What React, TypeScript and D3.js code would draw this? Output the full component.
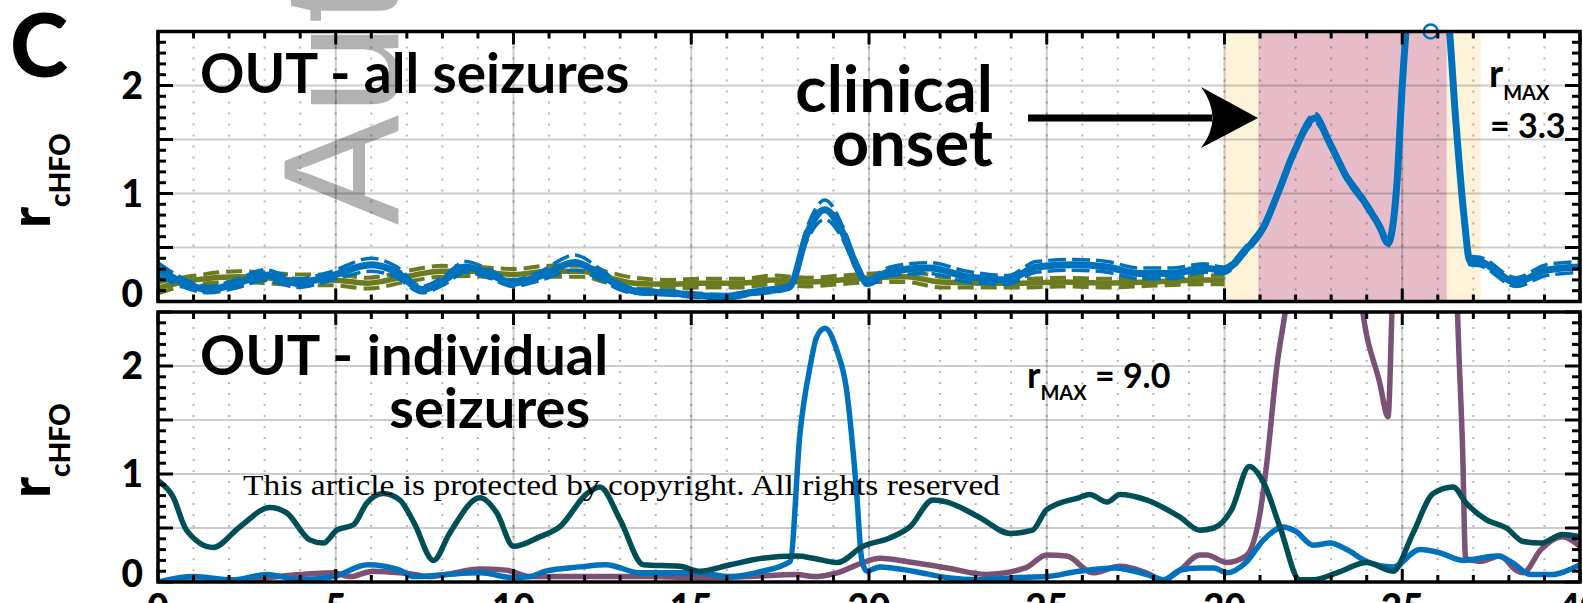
import React from 'react';
import * as d3 from 'd3';

const W = 1583;
const H = 603;

// Shared axis labels
const xTickLabels = ['0', '5', '10', '15', '20', '25', '30', '35', '40'];
const yTickLabels = ['0', '1', '2'];

// Shaded intervals (s)
const onsetWindow = [30.0, 37.2];
const clinicalWindow = [30.95, 36.25];

// Panel 1 — all seizures: mean r_cHFO with confidence half-width
const allBlueT = [0, 0.67, 1.41, 2.25, 3.0, 3.94, 4.8, 6.0, 6.67, 7.43, 8.07, 8.64, 9.3, 9.96, 10.7, 11.73, 12.4, 13.05, 13.6, 14.35, 15.05, 15.9, 16.85, 17.64, 17.78, 18.26, 18.76, 19.27, 19.66, 19.94, 20.6, 21.7, 22.75, 23.9, 24.7, 25.75, 26.7, 27.6, 28.56, 29.4, 29.97, 30.6, 31.1, 31.5, 31.94, 32.55, 32.97, 33.44, 33.9, 34.37, 34.6, 34.85, 35.0, 35.2, 35.8, 36.3, 36.5, 36.74, 36.9, 37.19, 38.2, 39.05, 40];
const allBlueR = [0.3, 0.18, 0.11, 0.17, 0.245, 0.17, 0.23, 0.34, 0.28, 0.11, 0.2, 0.32, 0.26, 0.17, 0.23, 0.36, 0.26, 0.13, 0.09, 0.08, 0.06, 0.045, 0.09, 0.125, 0.14, 0.63, 0.85, 0.63, 0.32, 0.18, 0.28, 0.31, 0.23, 0.2, 0.32, 0.34, 0.32, 0.26, 0.26, 0.31, 0.29, 0.48, 0.69, 1.0, 1.37, 1.7, 1.46, 1.15, 0.94, 0.69, 0.54, 1.09, 2.0, 2.8, 3.3, 2.6, 1.7, 0.78, 0.38, 0.37, 0.18, 0.29, 0.32];
const allBlueSpread = [0.06, 0.04, 0.03, 0.04, 0.05, 0.04, 0.04, 0.06, 0.05, 0.03, 0.04, 0.05, 0.04, 0.03, 0.04, 0.07, 0.05, 0.03, 0.02, 0.02, 0.02, 0.02, 0.02, 0.02, 0.02, 0.06, 0.09, 0.06, 0.04, 0.03, 0.04, 0.05, 0.05, 0.04, 0.05, 0.05, 0.05, 0.05, 0.05, 0.04, 0.03, 0.03, 0.03, 0.03, 0.03, 0.04, 0.03, 0.03, 0.03, 0.03, 0.03, 0.03, 0.03, 0.03, 0.03, 0.03, 0.03, 0.03, 0.04, 0.04, 0.04, 0.05, 0.05];

const allOliveT = [0, 1.04, 2.25, 3.0, 3.94, 4.9, 5.9, 6.95, 7.99, 8.83, 10.0, 10.97, 11.9, 12.57, 13.4, 14.35, 15.25, 16.4, 17.3, 18.26, 19.2, 20.1, 21.07, 22.0, 23.2, 24.3, 25.45, 26.7, 27.9, 29.4, 30.0];
const allOliveR = [0.125, 0.2, 0.23, 0.22, 0.2, 0.2, 0.17, 0.23, 0.28, 0.28, 0.25, 0.28, 0.28, 0.23, 0.17, 0.16, 0.17, 0.17, 0.2, 0.18, 0.2, 0.22, 0.23, 0.18, 0.17, 0.17, 0.18, 0.17, 0.18, 0.2, 0.2];
const allOliveSpread = [0.05, 0.04, 0.05, 0.05, 0.05, 0.05, 0.05, 0.05, 0.05, 0.045, 0.05, 0.05, 0.05, 0.05, 0.05, 0.04, 0.04, 0.04, 0.04, 0.04, 0.04, 0.04, 0.05, 0.05, 0.04, 0.04, 0.04, 0.04, 0.035, 0.04, 0.04];

// Panel 2 — individual seizures
const szBlueT = [0, 1.0, 2.1, 3.06, 4.0, 4.93, 5.9, 6.8, 7.2, 8.1, 9.06, 10.0, 10.46, 10.9, 11.87, 12.6, 13.56, 14.1, 15.16, 16.1, 17.0, 17.78, 18.06, 18.34, 18.53, 18.76, 19.1, 19.36, 19.64, 19.8, 19.94, 20.3, 21.24, 22.2, 23.1, 24.05, 25.0, 25.9, 26.9, 27.8, 28.3, 28.75, 29.3, 29.7, 30.07, 30.6, 31.1, 31.65, 32.0, 32.5, 32.97, 33.44, 34.0, 34.74, 35.5, 36.06, 36.7, 37.66, 38.1, 38.6, 39.24, 39.6, 40];
const szBlueR = [0.0, 0.05, 0.02, 0.07, 0.02, 0.05, 0.16, 0.11, 0.05, 0.07, 0.085, 0.04, 0.05, 0.1, 0.14, 0.16, 0.085, 0.085, 0.085, 0.05, 0.1, 0.19, 1.38, 1.99, 2.27, 2.35, 2.14, 1.8, 0.88, 0.2, 0.1, 0.14, 0.1, 0.04, 0.02, 0.04, 0.05, 0.1, 0.13, 0.07, 0.02, 0.11, 0.13, 0.13, 0.085, 0.18, 0.39, 0.51, 0.47, 0.34, 0.36, 0.3, 0.19, 0.14, 0.3, 0.27, 0.2, 0.24, 0.18, 0.07, 0.07, 0.1, 0.16];

const szTealT = [0, 0.42, 0.8, 1.55, 2.3, 3.15, 3.62, 4.27, 4.65, 5.03, 5.5, 5.87, 6.33, 6.8, 7.2, 7.75, 8.2, 9.06, 9.53, 10.0, 10.75, 11.3, 12.07, 12.43, 13.0, 13.65, 14.68, 15.25, 16.1, 17.0, 17.97, 18.43, 19.1, 19.83, 20.6, 21.15, 21.8, 22.2, 23.1, 23.97, 24.6, 25.0, 25.9, 26.2, 26.7, 27.06, 27.8, 28.75, 29.3, 29.7, 30.2, 30.7, 31.1, 31.56, 32.12, 32.5, 33.16, 34.0, 34.74, 35.3, 35.87, 36.43, 36.8, 37.37, 37.93, 38.4, 38.9, 39.5, 40];
const szTealR = [0.94, 0.79, 0.48, 0.32, 0.51, 0.69, 0.64, 0.39, 0.36, 0.48, 0.53, 0.73, 0.82, 0.76, 0.55, 0.2, 0.45, 0.78, 0.64, 0.33, 0.42, 0.51, 0.82, 0.88, 0.575, 0.16, 0.145, 0.1, 0.16, 0.22, 0.24, 0.22, 0.18, 0.33, 0.41, 0.51, 0.76, 0.74, 0.6, 0.45, 0.48, 0.67, 0.78, 0.81, 0.74, 0.81, 0.76, 0.6, 0.48, 0.5, 0.67, 1.07, 0.92, 0.51, 0.02, 0.02, 0.085, 0.18, 0.1, 0.45, 0.82, 0.88, 0.73, 0.575, 0.5, 0.375, 0.36, 0.44, 0.42];

const szPurpleT = [0, 2.1, 3.06, 4.0, 4.93, 5.4, 6.05, 6.8, 7.2, 7.65, 8.1, 9.06, 9.8, 10.46, 11.87, 13.75, 15.6, 16.56, 17.97, 18.43, 19.1, 19.83, 20.3, 21.24, 22.2, 23.3, 24.4, 25.0, 25.56, 26.3, 27.06, 27.8, 28.27, 28.75, 29.3, 29.5, 30.07, 30.6, 31.0, 31.2, 31.47, 31.75, 32.3, 33.0, 33.5, 33.87, 34.37, 34.6, 34.72, 35.2, 35.8, 36.3, 36.55, 36.7, 36.78, 37.19, 37.75, 38.2, 38.4, 38.9, 39.5, 40];
const szPurpleR = [0.0, 0.0, 0.04, 0.07, 0.085, 0.05, 0.1, 0.085, 0.07, 0.05, 0.07, 0.12, 0.11, 0.05, 0.05, 0.05, 0.04, 0.05, 0.07, 0.05, 0.085, 0.18, 0.22, 0.18, 0.13, 0.07, 0.13, 0.25, 0.24, 0.085, 0.145, 0.085, 0.02, 0.11, 0.25, 0.25, 0.18, 0.24, 0.64, 1.13, 1.99, 2.6, 4.5, 5.2, 3.8, 2.55, 1.84, 1.53, 2.6, 6.0, 9.0, 6.5, 2.55, 1.2, 0.22, 0.19, 0.24, 0.11, 0.085, 0.3, 0.42, 0.33];

const BLUE = '#0072bd';
const OLIVE = '#6c7b1f';
const TEAL = '#004f58';
const PURPLE = '#7b5175';
const FONT = 'Lato, "Open Sans", sans-serif';

const LEFT = 158;
const RIGHT = 1580;
const x = d3.scaleLinear().domain([0, 40]).range([LEFT, RIGHT]);

type Pt = [number, number];
const zip = (t: number[], r: number[]): Pt[] => t.map((v, i) => [v, r[i]]);

function Grid({ y }: { y: d3.ScaleLinear<number, number> }) {
  const [bottom, top] = y.range();
  const hGrid = [0.5, 1, 1.5, 2];
  const vGrid = [5, 10, 15, 20, 25, 30, 35];
  const xMinor = d3.range(1, 40, 1);
  return (
    <g>
      {hGrid.map((v) => (
        <line key={'h' + v} x1={LEFT} x2={RIGHT} y1={y(v)} y2={y(v)} stroke="#000" strokeOpacity={0.2} strokeWidth={2} />
      ))}
      {vGrid.map((v) => (
        <line key={'v' + v} x1={x(v)} x2={x(v)} y1={top} y2={bottom} stroke="#000" strokeOpacity={0.2} strokeWidth={2} />
      ))}
      {xMinor.map((v) => (
        <line key={'m' + v} x1={x(v)} x2={x(v)} y1={bottom} y2={top} stroke="#000" strokeOpacity={0.28} strokeWidth={2} strokeDasharray="2 9" />
      ))}
    </g>
  );
}

function Axes({ y }: { y: d3.ScaleLinear<number, number> }) {
  const [bottom, top] = y.range();
  const xTicks = d3.range(0, 41, 1);
  const yTicks = d3.range(0, 26, 1).map((k) => k / 10);
  return (
    <g stroke="#000" strokeWidth={3}>
      {xTicks.map((v) => {
        const len = v % 5 === 0 ? 13 : 7;
        return (
          <g key={'xt' + v}>
            <line x1={x(v)} x2={x(v)} y1={top} y2={top + len} />
            <line x1={x(v)} x2={x(v)} y1={bottom} y2={bottom - len} />
          </g>
        );
      })}
      {yTicks.map((v, i) => {
        const len = i % 5 === 0 ? 15 : 8;
        return (
          <g key={'yt' + i}>
            <line x1={LEFT} x2={LEFT + len} y1={y(v)} y2={y(v)} />
            <line x1={RIGHT} x2={RIGHT - len} y1={y(v)} y2={y(v)} />
          </g>
        );
      })}
      <rect x={LEFT} y={top} width={RIGHT - LEFT} height={bottom - top} fill="none" strokeWidth={3.5} />
    </g>
  );
}

function YLabels({ y }: { y: d3.ScaleLinear<number, number> }) {
  return (
    <g fontFamily={FONT} fontWeight={900} fontSize={37} textAnchor="end">
      {yTickLabels.map((s) => {
        const v = +s;
        const yy = y(v) + (v === 0 ? -8 : 0);
        return (
          <text key={s} x={143} y={yy} dy="0.36em">
            {s}
          </text>
        );
      })}
    </g>
  );
}

function RLabel({ cy }: { cy: number }) {
  return (
    <text transform={`translate(50,${cy}) rotate(-90)`} fontFamily={FONT} fontWeight={900} fontSize={56}>
      r
      <tspan fontSize={28} dy={20}>
        cHFO
      </tspan>
    </text>
  );
}

export default function App() {
  const yTop = d3.scaleLinear().domain([0, 2.5]).range([301.5, 31.5]);
  const yBot = d3.scaleLinear().domain([0, 2.5]).range([582, 312]);

  const lineTop = d3.line<Pt>().x((d) => x(d[0])).y((d) => yTop(d[1])).curve(d3.curveMonotoneX);
  const lineBot = d3.line<Pt>().x((d) => x(d[0])).y((d) => yBot(d[1])).curve(d3.curveMonotoneX);

  const blueMean = zip(allBlueT, allBlueR);
  const blueUp = allBlueT.map((t, i): Pt => [t, allBlueR[i] + allBlueSpread[i]]);
  const blueLo = allBlueT.map((t, i): Pt => [t, allBlueR[i] - allBlueSpread[i]]);
  const oliveMean = zip(allOliveT, allOliveR);
  const oliveUp = allOliveT.map((t, i): Pt => [t, allOliveR[i] + allOliveSpread[i]]);
  const oliveLo = allOliveT.map((t, i): Pt => [t, allOliveR[i] - allOliveSpread[i]]);

  const peakIdx = d3.maxIndex(allBlueR);
  const yMaxTop = yTop.domain()[1];

  return (
    <svg width={W} height={H} viewBox={`0 0 ${W} ${H}`} style={{ position: 'fixed', left: 0, top: 0, background: '#fff' }}>
      <rect x={0} y={0} width={W} height={H} fill="#fff" />

      <clipPath id="clipTop">
        <rect x={LEFT} y={31.5} width={RIGHT - LEFT} height={270} />
      </clipPath>
      <clipPath id="clipBot">
        <rect x={LEFT} y={312} width={RIGHT - LEFT} height={270} />
      </clipPath>

      {/* top panel: all seizures */}
      <rect x={x(onsetWindow[0])} y={31.5} width={x(onsetWindow[1]) - x(onsetWindow[0])} height={270} fill="#fdf3d9" />
      <rect x={x(clinicalWindow[0])} y={31.5} width={x(clinicalWindow[1]) - x(clinicalWindow[0])} height={270} fill="#e7bcc9" />
      <Grid y={yTop} />
      <g clipPath="url(#clipTop)" fill="none" strokeLinejoin="round">
        <path d={lineTop(oliveUp) || ''} stroke={OLIVE} strokeWidth={4} strokeDasharray="16 7" />
        <path d={lineTop(oliveLo) || ''} stroke={OLIVE} strokeWidth={4} strokeDasharray="16 7" />
        <path d={lineTop(oliveMean) || ''} stroke={OLIVE} strokeWidth={5.5} />
        <path d={lineTop(blueUp) || ''} stroke={BLUE} strokeWidth={3.5} strokeDasharray="18 6" />
        <path d={lineTop(blueLo) || ''} stroke={BLUE} strokeWidth={3.5} strokeDasharray="18 6" />
        <path d={lineTop(blueMean) || ''} stroke={BLUE} strokeWidth={7} />
      </g>
      <circle cx={x(allBlueT[peakIdx])} cy={yTop(Math.min(allBlueR[peakIdx], yMaxTop))} r={7} fill="none" stroke={BLUE} strokeWidth={2.5} />
      <Axes y={yTop} />

      {/* bottom panel: individual seizures */}
      <Grid y={yBot} />
      <g clipPath="url(#clipBot)" fill="none" strokeWidth={5.5} strokeLinejoin="round">
        <path d={lineBot(zip(szPurpleT, szPurpleR)) || ''} stroke={PURPLE} />
        <path d={lineBot(zip(szBlueT, szBlueR)) || ''} stroke={BLUE} />
        <path d={lineBot(zip(szTealT, szTealR)) || ''} stroke={TEAL} />
      </g>
      <Axes y={yBot} />

      {/* axis labels */}
      <YLabels y={yTop} />
      <YLabels y={yBot} />
      <RLabel cy={228} />
      <RLabel cy={498} />
      <g fontFamily={FONT} fontWeight={900} fontSize={37} textAnchor="middle">
        {xTickLabels.map((s) => (
          <text key={s} x={x(+s)} y={621}>
            {s}
          </text>
        ))}
      </g>

      {/* annotations */}
      <text x={10} y={77} fontFamily={FONT} fontWeight={900} fontSize={88}>C</text>
      <g fontFamily={FONT} fontWeight={700}>
        <text x={200} y={93} fontSize={55}>OUT - all seizures</text>
        <text x={993} y={112} fontSize={65} textAnchor="end">clinical</text>
        <text x={993} y={166} fontSize={65} textAnchor="end">onset</text>
        <text x={200} y={375} fontSize={56}>OUT - individual</text>
        <text x={590} y={428} fontSize={56} textAnchor="end">seizures</text>
      </g>
      <line x1={1028} x2={1212} y1={118} y2={118} stroke="#000" strokeWidth={7} />
      <path d="M1258,118 L1201,87 Q1224,118 1201,148 Z" fill="#000" />

      <g fontFamily={FONT} fontWeight={700}>
        <text x={1489} y={87} fontSize={38}>
          r<tspan fontSize={20} dy={13}>MAX</tspan>
        </text>
        <text x={1490} y={138} fontSize={34}>= 3.3</text>
        <text x={1027} y={388} fontSize={36}>
          r<tspan fontSize={20} dy={12}>MAX</tspan>
          <tspan fontSize={34} dy={-12}> = 9.0</tspan>
        </text>
      </g>

      <text x={243} y={495} fontFamily='"Liberation Serif", serif' fontSize={29} textLength={757} lengthAdjust="spacingAndGlyphs">
        This article is protected by copyright. All rights reserved
      </text>

      <text transform="translate(398,225) rotate(-90)" fontFamily='"Liberation Sans", Arial, sans-serif' fontSize={165} fill="#000" fillOpacity={0.3}>
        Author Manuscript
      </text>
    </svg>
  );
}
